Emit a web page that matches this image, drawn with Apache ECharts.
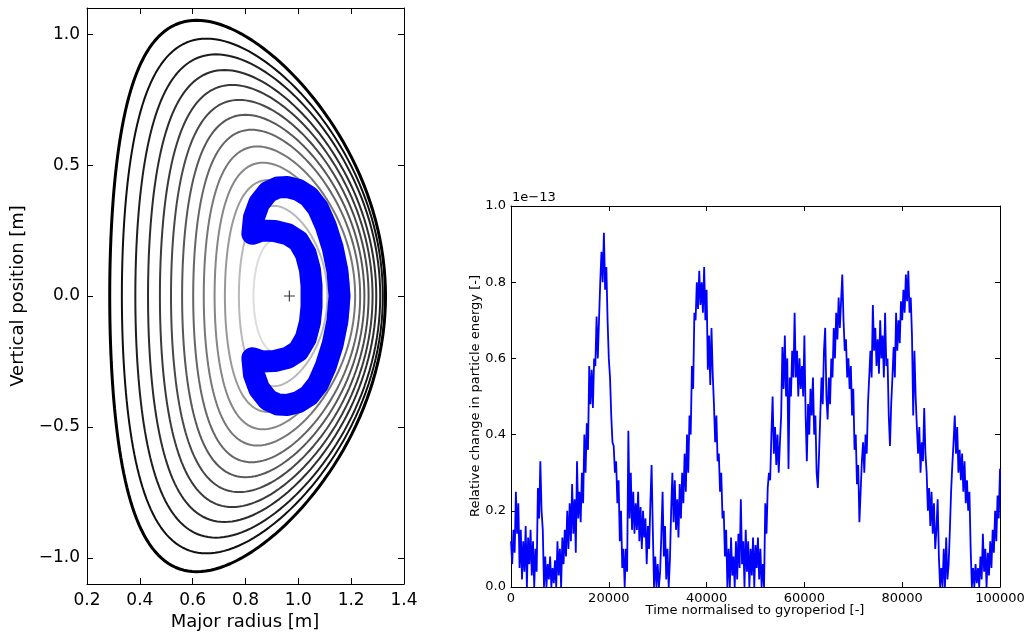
<!DOCTYPE html>
<html>
<head>
<meta charset="utf-8">
<script src="https://cdn.jsdelivr.net/npm/echarts@6/dist/echarts.min.js"></script>
<style>
  html, body { margin: 0; padding: 0; background: #fff; }
  #chart { width: 1031px; height: 633px; }
</style>
</head>
<body>
<div id="chart"></div>
<script>
// ---------- Poloidal cross-section: flux surfaces (outermost first), in metres ----------
const surfaceRIn  = [0.286, 0.332, 0.383, 0.431, 0.476, 0.518, 0.560, 0.602, 0.642, 0.683, 0.722, 0.775, 0.830];
const surfaceROut = [1.330, 1.320, 1.310, 1.295, 1.281, 1.266, 1.250, 1.234, 1.215, 1.192, 1.165, 1.110, 1.050];
const surfaceZTop = [1.053, 0.983, 0.923, 0.863, 0.806, 0.749, 0.692, 0.635, 0.571, 0.509, 0.443, 0.345, 0.220];
const surfaceRTop = [0.615, 0.652, 0.688, 0.720, 0.750, 0.776, 0.800, 0.823, 0.845, 0.866, 0.886, 0.905, 0.925];

// magnetic axis
const axisR = 0.966;
const axisZ = 0.0;

// guiding-centre orbit (trapped particle), traced as one closed path
const orbitR = [0.826, 0.832, 0.852, 0.885, 0.922, 0.960, 1.000, 1.040, 1.075, 1.104, 1.130, 1.148, 1.156,
                1.148, 1.130, 1.104, 1.075, 1.040, 1.000, 0.960, 0.922, 0.885, 0.852, 0.832, 0.826,
                0.862, 0.910, 0.960, 1.000, 1.028, 1.044, 1.050, 1.050, 1.044, 1.028, 1.000, 0.960, 0.910, 0.862, 0.826];
const orbitZ = [0.238, 0.300, 0.355, 0.397, 0.414, 0.416, 0.405, 0.380, 0.335, 0.268, 0.185, 0.095, 0.000,
                -0.095, -0.185, -0.268, -0.335, -0.380, -0.405, -0.416, -0.414, -0.397, -0.355, -0.300, -0.238,
                -0.250, -0.248, -0.236, -0.210, -0.162, -0.100, -0.040, 0.040, 0.100, 0.162, 0.210, 0.236, 0.248, 0.250, 0.238];

// ---------- Energy conservation: relative change, in units of 1e-13, sampled every 250 gyroperiods ----------
const timeStep = 250;
const energyChange = [
  0.12, 0.06, 0.15, 0.09, 0.25, 0.14, 0.22, 0.05, 0.15, 0.02, 0.12, 0.04,
  0.16, 0.00, 0.13, 0.06, 0.15, 0.03, 0.12, 0.00, 0.10, 0.04, 0.26, 0.18,
  0.33, 0.20, 0.15, 0.00, 0.08, 0.00, 0.06, 0.02, 0.08, 0.00, 0.05, 0.01,
  0.07, 0.00, 0.12, 0.03, 0.10, 0.00, 0.13, 0.06, 0.15, 0.08, 0.20, 0.10,
  0.22, 0.12, 0.27, 0.14, 0.23, 0.09, 0.33, 0.18, 0.25, 0.17, 0.30, 0.22,
  0.40, 0.30, 0.43, 0.36, 0.58, 0.48, 0.57, 0.47, 0.60, 0.58, 0.71, 0.60,
  0.70, 0.80, 0.88, 0.80, 0.93, 0.78, 0.84, 0.70, 0.60, 0.55, 0.45, 0.38,
  0.37, 0.30, 0.33, 0.22, 0.28, 0.12, 0.20, 0.05, 0.10, 0.00, 0.10, 0.04,
  0.41, 0.18, 0.30, 0.15, 0.25, 0.14, 0.22, 0.15, 0.25, 0.12, 0.21, 0.10,
  0.20, 0.13, 0.18, 0.06, 0.16, 0.10, 0.22, 0.32, 0.15, 0.00, 0.08, 0.00,
  0.06, 0.00, 0.04, 0.14, 0.25, 0.08, 0.16, 0.02, 0.10, 0.00, 0.07, 0.20,
  0.30, 0.17, 0.28, 0.15, 0.23, 0.13, 0.27, 0.18, 0.30, 0.22, 0.35, 0.25,
  0.40, 0.30, 0.45, 0.40, 0.58, 0.52, 0.72, 0.70, 0.80, 0.73, 0.83, 0.74,
  0.80, 0.72, 0.84, 0.70, 0.78, 0.57, 0.66, 0.53, 0.68, 0.56, 0.48, 0.38,
  0.45, 0.33, 0.35, 0.25, 0.30, 0.18, 0.20, 0.08, 0.15, 0.00, 0.10, 0.00,
  0.13, 0.03, 0.08, 0.00, 0.12, 0.02, 0.14, 0.05, 0.23, 0.06, 0.12, 0.00,
  0.15, 0.04, 0.12, 0.00, 0.10, 0.03, 0.13, 0.00, 0.11, 0.05, 0.13, 0.02,
  0.10, 0.00, 0.06, 0.00, 0.22, 0.14, 0.26, 0.30, 0.28, 0.40, 0.50, 0.35,
  0.42, 0.32, 0.40, 0.30, 0.38, 0.45, 0.63, 0.52, 0.66, 0.50, 0.60, 0.31,
  0.55, 0.50, 0.62, 0.55, 0.72, 0.55, 0.62, 0.50, 0.60, 0.52, 0.58, 0.50,
  0.66, 0.45, 0.33, 0.48, 0.40, 0.52, 0.45, 0.55, 0.40, 0.45, 0.30, 0.26,
  0.35, 0.45, 0.55, 0.48, 0.62, 0.68, 0.50, 0.44, 0.55, 0.48, 0.60, 0.55,
  0.68, 0.60, 0.72, 0.65, 0.76, 0.68, 0.75, 0.82, 0.70, 0.62, 0.65, 0.55,
  0.60, 0.52, 0.58, 0.45, 0.52, 0.36, 0.40, 0.27, 0.32, 0.17, 0.25, 0.33,
  0.38, 0.30, 0.40, 0.35, 0.48, 0.55, 0.62, 0.55, 0.74, 0.62, 0.68, 0.58,
  0.65, 0.56, 0.70, 0.60, 0.66, 0.55, 0.72, 0.58, 0.60, 0.45, 0.37, 0.48,
  0.55, 0.63, 0.55, 0.72, 0.62, 0.70, 0.64, 0.75, 0.70, 0.78, 0.72, 0.82,
  0.75, 0.83, 0.72, 0.76, 0.66, 0.45, 0.62, 0.50, 0.42, 0.35, 0.42, 0.30,
  0.38, 0.33, 0.47, 0.35, 0.30, 0.20, 0.26, 0.16, 0.25, 0.14, 0.22, 0.10,
  0.15, 0.23, 0.08, 0.00, 0.05, 0.00, 0.10, 0.00, 0.13, 0.02, 0.06, 0.15,
  0.25, 0.32, 0.38, 0.45, 0.35, 0.42, 0.30, 0.36, 0.28, 0.35, 0.25, 0.33,
  0.22, 0.28, 0.20, 0.25, 0.10, 0.00, 0.05, 0.00, 0.06, 0.01, 0.05, 0.00,
  0.08, 0.02, 0.14, 0.04, 0.10, 0.00, 0.09, 0.03, 0.12, 0.05, 0.15, 0.09,
  0.20, 0.12, 0.24, 0.18, 0.31
];

// tick positions / labels
const radiusTicks = [0.2, 0.4, 0.6, 0.8, 1.0, 1.2, 1.4];
const heightTicks = [-1.0, -0.5, 0.0, 0.5, 1.0];
const timeTicks = [0, 20000, 40000, 60000, 80000, 100000];
const energyTicks = [0.0, 0.2, 0.4, 0.6, 0.8, 1.0];
const energyExponent = '1e\u221213';

// ---------- styles ----------
const FONT = 'DejaVu Sans';
const surfaceColors = ['#000000', '#101010', '#1e1e1e', '#2c2c2c', '#3a3a3a', '#484848', '#575757',
                       '#666666', '#767676', '#868686', '#989898', '#b8b8b8', '#dcdcdc'];
const surfaceWidths = [3, 2, 2, 2, 2, 2, 2, 2, 2, 2, 2, 2, 2];

// shaped flux surface (elongation + triangularity) from measured extents
function surfacePath(i) {
  const r0 = (surfaceRIn[i] + surfaceROut[i]) / 2;
  const a = (surfaceROut[i] - surfaceRIn[i]) / 2;
  const kappa = surfaceZTop[i] / a;
  const tri = Math.asin(Math.max(-1, Math.min(1, (r0 - surfaceRTop[i]) / a)));
  const pts = [];
  const n = 180;
  for (let k = 0; k <= n; k++) {
    const th = 2 * Math.PI * k / n;
    pts.push([r0 + a * Math.cos(th + tri * Math.sin(th)), kappa * a * Math.sin(th)]);
  }
  return pts;
}

const minusFmt = (digits) => (v) => (v < 0 ? '\u2212' : '') + Math.abs(v).toFixed(digits);
const plainInt = (v) => String(Math.round(v));

function frame(extra) {
  return Object.assign({
    type: 'value',
    axisLine: { show: true, onZero: false, lineStyle: { color: '#000', width: 1 } },
    axisTick: { show: true, inside: true, length: 6, lineStyle: { color: '#000', width: 1 } },
    axisLabel: { show: false },
    splitLine: { show: false }
  }, extra);
}

const chart = echarts.init(document.getElementById('chart'), null, { renderer: 'canvas' });

const series = [];
surfaceRIn.forEach((_, i) => {
  series.push({
    type: 'line', xAxisIndex: 0, yAxisIndex: 0, data: surfacePath(i),
    showSymbol: false, silent: true, animation: false, z: 2,
    lineStyle: { color: surfaceColors[i], width: surfaceWidths[i] }
  });
});
series.push({
  type: 'line', xAxisIndex: 0, yAxisIndex: 0,
  data: orbitR.map((r, k) => [r, orbitZ[k]]),
  showSymbol: false, silent: true, animation: false, z: 3,
  lineStyle: { color: '#0000ff', width: 22, cap: 'round', join: 'round' }
});
series.push({
  type: 'scatter', xAxisIndex: 0, yAxisIndex: 0, data: [[axisR, axisZ]],
  symbol: 'path://M4.5,0h1v4.5h4.5v1h-4.5v4.5h-1v-4.5h-4.5v-1h4.5z',
  symbolSize: 11, itemStyle: { color: '#000' }, silent: true, animation: false, z: 4
});
series.push({
  type: 'line', xAxisIndex: 2, yAxisIndex: 2,
  data: energyChange.map((v, k) => [k * timeStep, v]),
  showSymbol: false, silent: true, animation: false, clip: true,
  lineStyle: { color: '#0000ff', width: 1.8 }
});

chart.setOption({
  backgroundColor: '#fff',
  animation: false,
  grid: [
    { left: 87, right: 627, top: 8, bottom: 49 },
    { left: 511, right: 31, top: 206, bottom: 46 }
  ],
  xAxis: [
    frame({ gridIndex: 0, position: 'bottom', min: 0.2, max: 1.4, interval: 0.2,
      axisLabel: { show: true, formatter: minusFmt(1), fontFamily: FONT, fontSize: 17, color: '#000', margin: 8,
        customValues: radiusTicks },
      axisTick: { show: true, inside: true, length: 6, lineStyle: { color: '#000' }, customValues: radiusTicks } }),
    frame({ gridIndex: 0, position: 'top', min: 0.2, max: 1.4,
      axisTick: { show: true, inside: true, length: 6, lineStyle: { color: '#000' }, customValues: radiusTicks } }),
    frame({ gridIndex: 1, position: 'bottom', min: 0, max: 100000, interval: 20000,
      axisLabel: { show: true, formatter: plainInt, fontFamily: FONT, fontSize: 13, color: '#000', margin: 5,
        customValues: timeTicks },
      axisTick: { show: true, inside: true, length: 5, lineStyle: { color: '#000' }, customValues: timeTicks } }),
    frame({ gridIndex: 1, position: 'top', min: 0, max: 100000,
      axisTick: { show: true, inside: true, length: 5, lineStyle: { color: '#000' }, customValues: timeTicks } })
  ],
  yAxis: [
    frame({ gridIndex: 0, position: 'left', min: -1.1, max: 1.1,
      axisLabel: { show: true, formatter: minusFmt(1), fontFamily: FONT, fontSize: 17, color: '#000', margin: 7,
        customValues: heightTicks },
      axisTick: { show: true, inside: true, length: 6, lineStyle: { color: '#000' }, customValues: heightTicks } }),
    frame({ gridIndex: 0, position: 'right', min: -1.1, max: 1.1,
      axisTick: { show: true, inside: true, length: 6, lineStyle: { color: '#000' }, customValues: heightTicks } }),
    frame({ gridIndex: 1, position: 'left', min: 0, max: 1, interval: 0.2,
      axisLabel: { show: true, formatter: minusFmt(1), fontFamily: FONT, fontSize: 13, color: '#000', margin: 5,
        customValues: energyTicks },
      axisTick: { show: true, inside: true, length: 5, lineStyle: { color: '#000' }, customValues: energyTicks } }),
    frame({ gridIndex: 1, position: 'right', min: 0, max: 1,
      axisTick: { show: true, inside: true, length: 5, lineStyle: { color: '#000' }, customValues: energyTicks } })
  ],
  graphic: [
    { type: 'text', x: 18, y: 296, rotation: Math.PI / 2,
      style: { text: 'Vertical position [m]', font: '18px "DejaVu Sans"', fill: '#000', align: 'center', verticalAlign: 'middle' } },
    { type: 'text', x: 245, y: 622,
      style: { text: 'Major radius [m]', font: '18px "DejaVu Sans"', fill: '#000', align: 'center', verticalAlign: 'middle' } },
    { type: 'text', x: 476, y: 396, rotation: Math.PI / 2,
      style: { text: 'Relative change in particle energy [-]', font: '13px "DejaVu Sans"', fill: '#000', align: 'center', verticalAlign: 'middle' } },
    { type: 'text', x: 755, y: 611,
      style: { text: 'Time normalised to gyroperiod [-]', font: '13px "DejaVu Sans"', fill: '#000', align: 'center', verticalAlign: 'middle' } },
    { type: 'text', x: 512, y: 204,
      style: { text: energyExponent, font: '13px "DejaVu Sans"', fill: '#000', align: 'left', verticalAlign: 'bottom' } }
  ],
  series: series
});
</script>
</body>
</html>
